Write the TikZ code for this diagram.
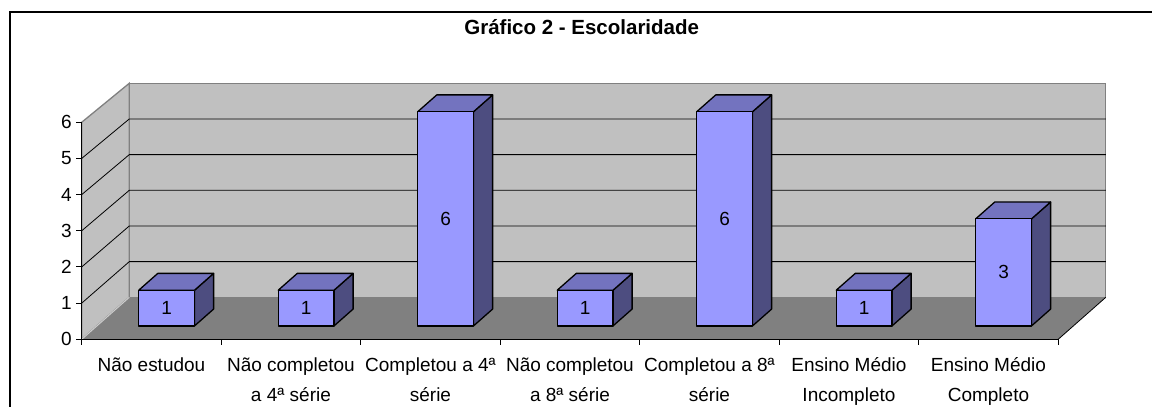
\documentclass[tikz,border=0pt]{standalone}
\usepackage{fontspec}
\setmainfont{Liberation Sans}
\begin{document}
\begin{tikzpicture}[x=1pt,y=-1pt,
  declare function={
    px(\u,\d)=81.7+139.5*\u+47.6*\d;
    py(\v,\d)=(1-\d)*(339.3-36.17*\v)+\d*(297.3-35.67*\v);
    by(\v,\d)=py(0,\d)-35.7*\v;
  },
  wall/.style={fill=wallgray,draw=edgegray,line width=1.3pt},
  grid/.style={draw=black,line width=0.8pt},
  barline/.style={draw=black,line width=1.3pt,line join=round},
  lbl/.style={font=\fontsize{19pt}{22pt}\selectfont,inner sep=0pt,anchor=base},
  ticklbl/.style={font=\fontsize{19pt}{22pt}\selectfont,inner sep=0pt,anchor=east},
  vallbl/.style={font=\fontsize{19pt}{22pt}\selectfont,inner sep=0pt}
]
\definecolor{wallgray}{HTML}{C0C0C0}
\definecolor{edgegray}{HTML}{808080}
\definecolor{floorgray}{HTML}{808080}
\definecolor{barfront}{HTML}{9999FF}
\definecolor{bartop}{HTML}{7373BF}
\definecolor{barside}{HTML}{4D4D80}
\useasboundingbox[fill=white] (0,0) rectangle (1152,407);
% frame
\draw[line width=2pt] (9.5,407) -- (9.5,11.7) -- (1152,11.7);
% title
\node[font=\fontsize{20.5pt}{24pt}\selectfont\bfseries,inner sep=0pt] (title) at (581.7,27) {Gráfico 2 - Escolaridade};
% walls
\path[wall] ({px(0,0)},{py(0,0)}) -- ({px(0,0)},{py(6,0)}) -- ({px(0,1)},{py(6,1)}) -- ({px(0,1)},{py(0,1)}) -- cycle;
\path[wall] ({px(0,1)},{py(0,1)}) rectangle ({px(7,1)},{py(6,1)});
% gridlines
\foreach \k in {1,...,5} {
  \draw[grid] ({px(0,0)},{py(\k,0)}) -- ({px(0,1)},{py(\k,1)}) -- ({px(7,1)},{py(\k,1)});
}
% floor
\path[fill=floorgray] ({px(0,0)},{py(0,0)}) -- ({px(0,1)},{py(0,1)}) -- ({px(7,1)},{py(0,1)}) -- ({px(7,0)},{py(0,0)}) -- cycle;
\draw[draw=wallgray!80!white,line width=1pt] ({px(0,0)},{py(0,0)}) -- ({px(0,1)},{py(0,1)});
\draw[draw=black,line width=0.8pt] ({px(7,0)},{py(0,0)}) -- ({px(7,1)},{py(0,1)});
% bars
\foreach \i/\v in {0/1,1/1,2/6,3/1,4/6,5/1,6/3} {
  \path[barline,fill=barside] ({px(\i+0.7,0.32)},{by(0,0.32)}) -- ({px(\i+0.7,0.32)},{by(\v,0.32)}) -- ({px(\i+0.7,0.72)},{by(\v,0.72)}) -- ({px(\i+0.7,0.72)},{by(0,0.72)}) -- cycle;
  \path[barline,fill=bartop] ({px(\i+0.3,0.32)},{by(\v,0.32)}) -- ({px(\i+0.3,0.72)},{by(\v,0.72)}) -- ({px(\i+0.7,0.72)},{by(\v,0.72)}) -- ({px(\i+0.7,0.32)},{by(\v,0.32)}) -- cycle;
  \path[barline,fill=barfront] ({px(\i+0.3,0.32)},{by(0,0.32)}) rectangle ({px(\i+0.7,0.32)},{by(\v,0.32)});
  \node[vallbl] (val\i) at ({px(\i+0.5,0.32)},{by(\v/2,0.32)}) {\v};
}
% axes
\draw[line width=1pt] ({px(0,0)},{py(6,0)}) -- ({px(0,0)},{py(0,0)}) -- ({px(7,0)},{py(0,0)});
\foreach \k in {0,...,6} {
  \draw[line width=1pt] ({px(0,0)-5.5},{py(\k,0)}) -- ({px(0,0)},{py(\k,0)});
  \node[ticklbl] (tick\k) at (72,{py(\k,0)}) {\k};
}
\foreach \i in {0,...,7} {
  \draw[line width=1pt] ({px(\i,0)},{py(0,0)}) -- ({px(\i,0)},{py(0,0)+5.5});
}
% category labels
\node[lbl] (c0) at ({px(0.5,0)},371) {Não estudou};
\node[lbl] (c1) at ({px(1.5,0)},371) {Não completou};
\node[lbl] (c1b) at ({px(1.5,0)},401) {a 4ª série};
\node[lbl] (c2) at ({px(2.5,0)},371) {Completou a 4ª};
\node[lbl] (c2b) at ({px(2.5,0)},401) {série};
\node[lbl] (c3) at ({px(3.5,0)},371) {Não completou};
\node[lbl] (c3b) at ({px(3.5,0)},401) {a 8ª série};
\node[lbl] (c4) at ({px(4.5,0)},371) {Completou a 8ª};
\node[lbl] (c4b) at ({px(4.5,0)},401) {série};
\node[lbl] (c5) at ({px(5.5,0)},371) {Ensino Médio};
\node[lbl] (c5b) at ({px(5.5,0)},401) {Incompleto};
\node[lbl] (c6) at ({px(6.5,0)},371) {Ensino Médio};
\node[lbl] (c6b) at ({px(6.5,0)},401) {Completo};
\end{tikzpicture}
\end{document}
